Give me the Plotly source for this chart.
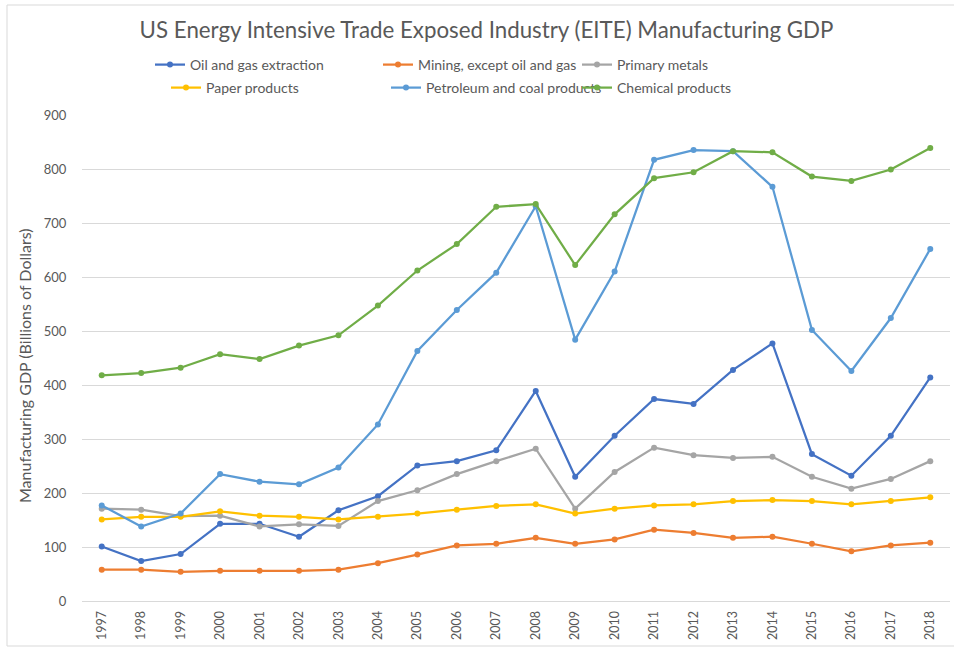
import plotly.graph_objects as go

years = [str(y) for y in range(1997, 2019)]

oil_gas = [101, 74, 87, 143, 143, 119, 168, 194, 251, 259, 279, 389, 230, 306, 374, 365, 428, 477, 272, 232, 306, 414]
mining = [58, 58, 54, 56, 56, 56, 58, 70, 86, 103, 106, 117, 106, 114, 132, 126, 117, 119, 106, 92, 103, 108]
primary_metals = [171, 169, 157, 158, 138, 142, 139, 185, 205, 235, 259, 282, 171, 239, 284, 270, 265, 267, 230, 208, 226, 259]
paper = [151, 156, 156, 166, 158, 156, 151, 156, 162, 169, 176, 179, 162, 171, 177, 179, 185, 187, 185, 179, 185, 192]
petroleum = [177, 138, 162, 235, 221, 216, 247, 327, 463, 539, 608, 731, 484, 610, 817, 835, 833, 767, 502, 426, 524, 652]
chemical = [418, 422, 432, 457, 448, 473, 492, 547, 612, 661, 730, 735, 622, 716, 783, 794, 833, 831, 786, 778, 799, 839]

series_names = ["Oil and gas extraction", "Mining, except oil and gas", "Primary metals",
                "Paper products", "Petroleum and coal products", "Chemical products"]
series_values = [oil_gas, mining, primary_metals, paper, petroleum, chemical]
colors = ["#4472C4", "#ED7D31", "#A5A5A5", "#FFC000", "#5B9BD5", "#70AD47"]
y_title = "Manufacturing GDP (Billions of Dollars)"
chart_title = "US Energy Intensive Trade Exposed Industry (EITE) Manufacturing GDP"

W, H = 954, 647
L, R, T, B = 82, 4, 115, 46
FONT = "Lato"
GRAY = "#595959"

# legend text positions (pixels in the container)
legend_pos = [(190, 65), (418, 65), (617, 65), (206, 88), (426, 88), (617, 88)]

fig = go.Figure()
legend_ids = ["legend", "legend2", "legend3", "legend4", "legend5", "legend6"]
for name, vals, col, lid in zip(series_names, series_values, colors, legend_ids):
    fig.add_trace(go.Scatter(
        x=years, y=vals, name=name, mode="lines+markers",
        line=dict(color=col, width=2.25),
        marker=dict(color=col, size=6),
        legend=lid,
    ))

layout_legends = {}
for lid, (tx, ty) in zip(legend_ids, legend_pos):
    layout_legends[lid] = dict(
        x=(tx - 40) / W, y=1 - ty / H, xref="container", yref="container",
        xanchor="left", yanchor="middle", orientation="v",
        font=dict(family=FONT, size=14, color=GRAY),
        bgcolor="rgba(0,0,0,0)", borderwidth=0,
    )

pw = W - L - R
ph = H - T - B
fig.update_layout(
    width=W, height=H,
    margin=dict(l=L, r=R, t=T, b=B, autoexpand=False),
    paper_bgcolor="white", plot_bgcolor="white",
    font=dict(family=FONT, size=12, color=GRAY),
    title=dict(text=chart_title,
               x=486.5 / W, y=1 - 30 / H, xref="container", yref="container",
               xanchor="center", yanchor="middle",
               font=dict(family=FONT, size=22.3, color=GRAY)),
    showlegend=True,
    xaxis=dict(type="category", range=[-0.5, 21.5], tickangle=-90,
               showgrid=False, showline=True, linecolor="#D9D9D9", linewidth=1,
               ticks="outside", ticklen=4, tickcolor="rgba(0,0,0,0)",
               tickfont=dict(size=12.5, color=GRAY), automargin=False),
    yaxis=dict(range=[0, 900], dtick=100, showgrid=True, gridcolor="#D9D9D9", gridwidth=1,
               zeroline=False, showline=False,
               ticks="outside", ticklen=12, tickcolor="rgba(0,0,0,0)",
               tickfont=dict(size=13, color=GRAY), automargin=False),
    annotations=[dict(text=y_title, textangle=-90, showarrow=False,
                      xref="paper", yref="paper",
                      x=(24 - L) / pw, y=(H - B - 366) / ph,
                      xanchor="center", yanchor="middle",
                      font=dict(family=FONT, size=16, color=GRAY))],
    shapes=[dict(type="rect", xref="paper", yref="paper",
                 x0=(7 - L) / pw, x1=(W + 5 - L) / pw,
                 y0=-(646 - (H - B)) / ph, y1=(H - B - 5) / ph,
                 line=dict(color="#D9D9D9", width=1), fillcolor="rgba(0,0,0,0)", layer="below")],
    **layout_legends,
)

fig.write_html("out.html", config={"displayModeBar": False},
               post_script="document.body.style.margin='0';")
